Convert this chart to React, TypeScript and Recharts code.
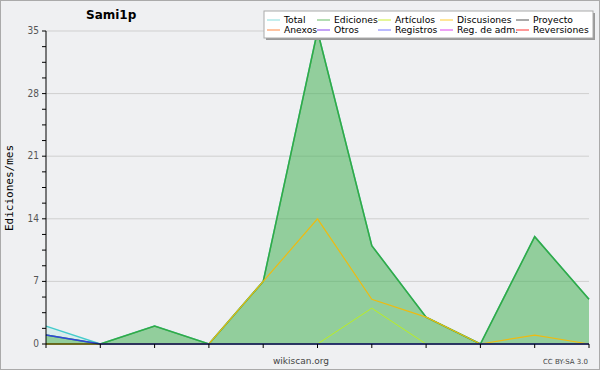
import React from 'react';
import { ComposedChart, Area, Line, XAxis, YAxis, CartesianGrid } from 'recharts';

const months = ['m01', 'm02', 'm03', 'm04', 'm05', 'm06', 'm07', 'm08', 'm09', 'm10', 'm11'];
const total = [2, 0, 2, 0, 7, 35, 11, 3, 0, 12, 5];
const ediciones = [1, 0, 2, 0, 7, 35, 11, 3, 0, 12, 5];
const articulos = [0, 0, 0, 0, 0, 0, 4, 0, 0, 0, 0];
const discusiones = [0, 0, 0, 0, 7, 14, 5, 3, 0, 1, 0];
const registros = [1, 0, 0, 0, 0, 0, 0, 0, 0, 0, 0];

const yTicks = [0, 1.75, 3.5, 5.25, 7, 8.75, 10.5, 12.25, 14, 15.75, 17.5, 19.25, 21, 22.75, 24.5, 26.25, 28, 29.75, 31.5, 33.25, 35];
const yLabels = [0, 7, 14, 21, 28, 35];

const legendRows = [
  [['Total', '#88dddd'], ['Ediciones', '#66bb66'], ['Artículos', '#ccee33'], ['Discusiones', '#ffcc33'], ['Proyecto', '#555555']],
  [['Anexos', '#ff8844'], ['Otros', '#8844ee'], ['Registros', '#7777ff'], ['Reg. de adm.', '#dd44ee'], ['Reversiones', '#ff3333']],
];
const legendCols = [267, 317, 378, 440, 516];

const data = months.map((m, i) => ({
  m,
  total: total[i],
  ediciones: ediciones[i],
  articulos: articulos[i],
  discusiones: discusiones[i],
  registros: registros[i],
}));

const YTick = (props: any) => {
  const { x, y, payload } = props;
  if (!yLabels.includes(payload.value)) return <g />;
  return (
    <text x={x - 1} y={y + 3} textAnchor="end" fontSize={10} fill="#555" fontFamily="Liberation Sans Narrow, DejaVu Sans Condensed, sans-serif">
      {payload.value}
    </text>
  );
};

export default function App() {
  return (
    <div style={{ position: 'absolute', left: 0, top: 0, width: 600, height: 370, background: '#eff0f2', boxSizing: 'border-box', border: '1px solid #aaa' }}>
      <div style={{ position: 'absolute', left: -1, top: -1 }}>
        <ComposedChart width={600} height={370} data={data} margin={{ top: 31, right: 11, bottom: 0, left: 6 }}>
          <CartesianGrid horizontal vertical={false} horizontalValues={[7, 14, 21, 28, 35]} stroke="#cfcfcf" />
          <XAxis dataKey="m" tick={() => <g />} tickSize={4} height={26} stroke="#000" interval={0} />
          <YAxis domain={[0, 35]} ticks={yTicks} tick={YTick} tickSize={4} width={40} stroke="#000" interval={0} />
          <Area type="linear" dataKey="total" stroke="#44cccc" strokeWidth={1.5} fill="#88dddd" fillOpacity={0.2} isAnimationActive={false} dot={false} />
          <Area type="linear" dataKey="ediciones" stroke="#33aa44" strokeWidth={1.5} fill="#3caa3c" fillOpacity={0.46} isAnimationActive={false} dot={false} />
          <Line type="linear" dataKey="articulos" stroke="#bbee22" strokeWidth={1} isAnimationActive={false} dot={false} />
          <Line type="linear" dataKey="discusiones" stroke="#eebb11" strokeWidth={1.2} isAnimationActive={false} dot={false} />
          <Line type="linear" dataKey="registros" stroke="#3344dd" strokeWidth={1.5} isAnimationActive={false} dot={false} />
        </ComposedChart>
      </div>
      <svg width={600} height={370} style={{ position: 'absolute', left: -1, top: -1, pointerEvents: 'none' }}>
        <text x={86} y={19} fontSize={12} fontWeight="bold" fontFamily="DejaVu Sans, sans-serif" fill="#000">Sami1p</text>
        <text transform="translate(13,188) rotate(-90)" textAnchor="middle" fontSize={11} fontFamily="DejaVu Sans Mono, monospace" fill="#000">Ediciones/mes</text>
        <text x={301} y={364} textAnchor="middle" fontSize={9} fontFamily="DejaVu Sans, sans-serif" fill="#444">wikiscan.org</text>
        <text x={588} y={364} textAnchor="end" fontSize={7} fontFamily="DejaVu Sans, sans-serif" fill="#444">CC BY-SA 3.0</text>
        <rect x={266} y={13} width={329} height={27} fill="#999" />
        <rect x={264} y={11} width={329} height={27} fill="#fff" stroke="#aaa" />
        {legendRows.map((row, r) =>
          row.map(([name, color], c) => (
            <g key={name}>
              <line x1={legendCols[c]} x2={legendCols[c] + 13} y1={20 + r * 10} y2={20 + r * 10} stroke={color} strokeWidth={1} />
              <text x={legendCols[c] + 17} y={23 + r * 10} fontSize={9.2} fontFamily="DejaVu Sans, sans-serif" fill="#000">{name}</text>
            </g>
          ))
        )}
      </svg>
    </div>
  );
}
